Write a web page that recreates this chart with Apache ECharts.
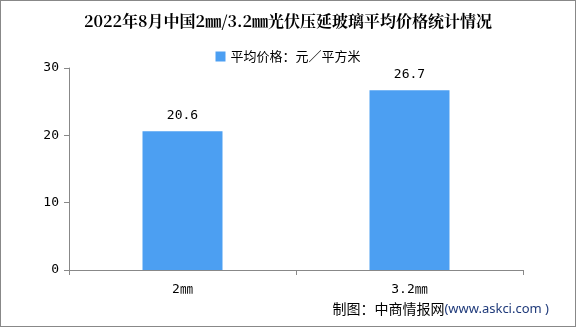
<!DOCTYPE html>
<html><head><meta charset="utf-8">
<script src="https://cdn.jsdelivr.net/npm/echarts@6/dist/echarts.min.js"></script>
<style>html,body{margin:0;padding:0;background:#fff}#c{width:576px;height:327px;box-sizing:border-box;border:1px solid #888}</style>
</head><body><div id="c"></div>
<script>
var categories = ['2㎜', '3.2㎜'];
var values = [20.6, 26.7];
var seriesName = '平均价格：元／平方米';
var yTicks = [0, 10, 20, 30];
var chart = echarts.init(document.getElementById('c'));
chart.setOption({
  animation: false,
  title: {
    text: '2022年8月中国2㎜/3.2㎜光伏压延玻璃平均价格统计情况',
    left: 'center', top: 7,
    textStyle: {fontFamily: 'Noto Serif CJK SC, Noto Sans CJK SC, serif', fontSize: 16, fontWeight: 'bold', color: '#000'}
  },
  legend: {
    top: 44, left: 'center', itemWidth: 10, itemHeight: 10, icon: 'rect',
    textStyle: {fontFamily: 'Noto Sans CJK SC', fontSize: 13, color: '#000'},
    data: [seriesName]
  },
  graphic: [{
    type: 'text', right: 26, top: 301,
    style: {
      text: '{a|制图：中商情报网}{b|(www.askci.com )}',
      rich: {
        a: {fontFamily: 'Noto Sans CJK SC', fontSize: 14, fill: '#000'},
        b: {fontFamily: 'Noto Sans', fontSize: 13, fill: '#1f3a7a'}
      }
    }
  }],
  grid: {left: 68, right: 52, top: 67, bottom: 56, containLabel: false},
  xAxis: {
    type: 'category', data: categories,
    axisLine: {lineStyle: {color: '#888'}},
    axisTick: {show: true, lineStyle: {color: '#888'}, length: 5},
    axisLabel: {color: '#000', fontFamily: 'DejaVu Sans Mono, Noto Sans CJK SC, monospace', fontSize: 13, margin: 13}
  },
  yAxis: {
    type: 'value', min: 0, max: 30, interval: 10,
    axisLine: {show: true, lineStyle: {color: '#888'}},
    axisTick: {show: true, lineStyle: {color: '#888'}, length: 5},
    splitLine: {show: false},
    axisLabel: {color: '#000', fontFamily: 'DejaVu Sans Mono, monospace', fontSize: 13, margin: 10}
  },
  series: [{
    name: seriesName, type: 'bar', data: values, barWidth: 80,
    itemStyle: {color: '#4c9ff2'},
    label: {show: true, position: 'top', distance: 9, color: '#000', fontFamily: 'DejaVu Sans Mono, monospace', fontSize: 13}
  }]
});
</script></body></html>
